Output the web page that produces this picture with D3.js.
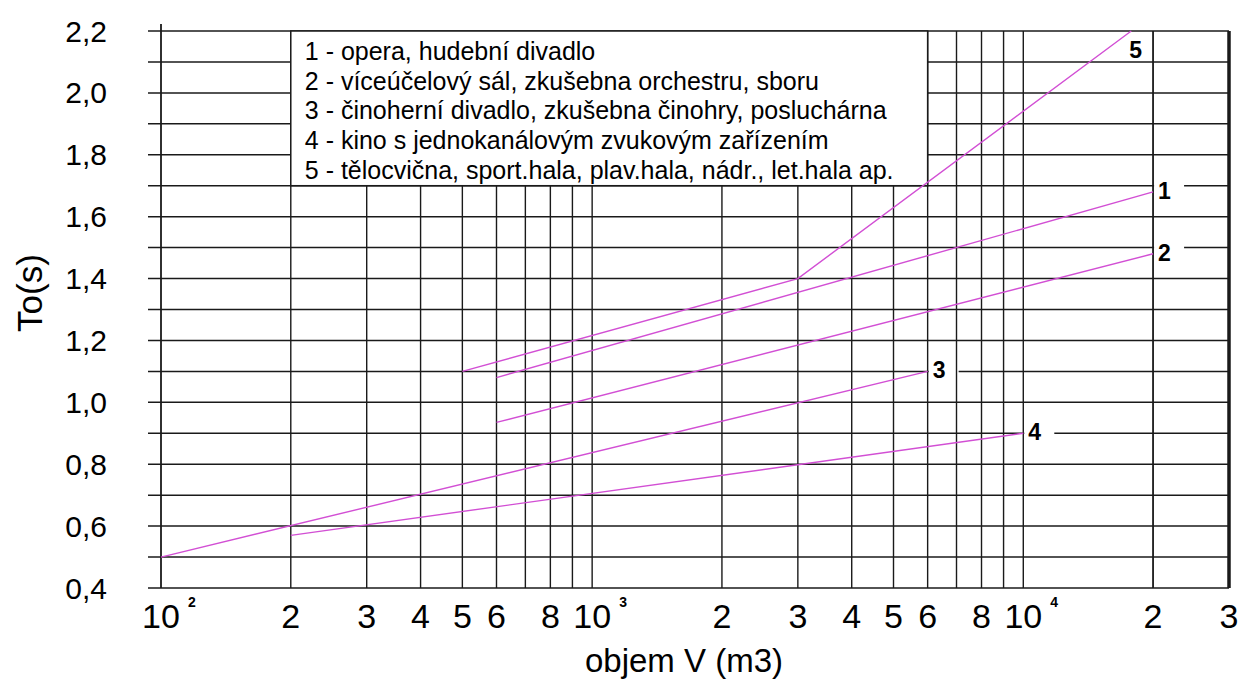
<!DOCTYPE html>
<html>
<head>
<meta charset="utf-8">
<script src="https://cdn.jsdelivr.net/npm/d3@7"></script>
<style>
	body { margin: 0; background: #fff; }
	text { font-family: "Liberation Sans", Arial, sans-serif; fill: #000; }
</style>
</head>
<body>
<div id="chart"></div>
<script>
// reverberation time vs. room volume
var seriesNames = ["1", "2", "3", "4", "5"],
	seriesV = [
		[600, 20000],
		[600, 20000],
		[100, 6000],
		[200, 10000],
		[500, 3000, 17800]
	],
	seriesT = [
		[1.08, 1.68],
		[0.935, 1.48],
		[0.5, 1.1],
		[0.57, 0.9],
		[1.1, 1.4, 2.2]
	],
	legendItems = [
		"1 - opera, hudební divadlo",
		"2 - víceúčelový sál, zkušebna orchestru, sboru",
		"3 - činoherní divadlo, zkušebna činohry, posluchárna",
		"4 - kino s jednokanálovým zvukovým zařízením",
		"5 - tělocvična, sport.hala, plav.hala, nádr., let.hala ap."
	],
	yTicks = [0.4, 0.6, 0.8, 1.0, 1.2, 1.4, 1.6, 1.8, 2.0, 2.2],
	xTickValues = [100, 200, 300, 400, 500, 600, 800, 1000, 2000, 3000, 4000, 5000, 6000, 8000, 10000, 20000, 30000],
	xTickLabels = ["10", "2", "3", "4", "5", "6", "8", "10", "2", "3", "4", "5", "6", "8", "10", "2", "3"],
	xTickExp = ["2", "", "", "", "", "", "", "3", "", "", "", "", "", "", "4", "", ""];

(function() {
	"use strict";

	var chartWidth = 1247,
		chartHeight = 686,
		left = 161,
		right = 1229,
		top = 31,
		bottom = 588,
		lineColor = "#d24fd4",
		gridColor = "#1a1a1a",
		svg,
		x,
		y,
		gridV = [],
		gridH = [],
		d,
		k;

	x = d3.scaleLog().domain([100, 30000]).range([left, right]);
	y = d3.scaleLinear().domain([0.4, 2.2]).range([bottom, top]);

	for (d = 100; d <= 10000; d *= 10) {
		for (k = 1; k <= 9; ++k) {
			gridV.push(d * k);
		}
	}
	gridV.push(20000, 30000);
	for (k = 4; k <= 22; ++k) gridH.push(k / 10);

	svg = d3.select("#chart")
		.append("svg")
		.attr("width", chartWidth)
		.attr("height", chartHeight);

	// horizontal grid, sticking out a bit on the left
	svg.append("g")
		.selectAll("line")
		.data(gridH)
		.enter()
		.append("line")
		.attr("x1", left - 13)
		.attr("x2", right)
		.attr("y1", function(v) { return y(v); })
		.attr("y2", function(v) { return y(v); })
		.style("stroke", gridColor)
		.style("stroke-width", 1.5);

	// gaps in the grid behind the curve numbers
	var labelG = svg.append("g");
	seriesNames.forEach(function(name, i) {
		var n = seriesV[i].length - 1,
			px = x(seriesV[i][n]),
			py = y(seriesT[i][n]);
		if (seriesT[i][n] >= 2.2) return;
		labelG.append("rect")
			.attr("x", px + 1)
			.attr("y", py - 12)
			.attr("width", 30)
			.attr("height", 24)
			.style("fill", "#fff");
	});

	// vertical grid
	svg.append("g")
		.selectAll("line")
		.data(gridV)
		.enter()
		.append("line")
		.attr("x1", function(v) { return x(v); })
		.attr("x2", function(v) { return x(v); })
		.attr("y1", function(v) { return v === 100 ? top - 7 : top; })
		.attr("y2", bottom)
		.style("stroke", gridColor)
		.style("stroke-width", function(v) { return v === 30000 ? 3 : (v === 100 ? 1.8 : 1.4); });

	// legend box
	svg.append("rect")
		.attr("x", x(200))
		.attr("y", y(2.2))
		.attr("width", x(6000) - x(200))
		.attr("height", y(1.7) - y(2.2))
		.style("fill", "#fff")
		.style("stroke", gridColor)
		.style("stroke-width", 1.5);

	svg.append("g")
		.selectAll("text")
		.data(legendItems)
		.enter()
		.append("text")
		.attr("x", x(200) + 14)
		.attr("y", function(t, i) { return 60 + i * 29.7; })
		.style("font-size", "25px")
		.text(function(t) { return t; });

	// curves
	var line = d3.line()
		.x(function(p) { return x(p[0]); })
		.y(function(p) { return y(p[1]); });

	svg.append("g")
		.selectAll("path")
		.data(seriesNames.map(function(name, i) {
			return seriesV[i].map(function(v, j) { return [v, seriesT[i][j]]; });
		}))
		.enter()
		.append("path")
		.attr("d", line)
		.style("fill", "none")
		.style("stroke", lineColor)
		.style("stroke-width", 1.4);

	// curve numbers
	seriesNames.forEach(function(name, i) {
		var n = seriesV[i].length - 1,
			px = x(seriesV[i][n]),
			py = y(seriesT[i][n]),
			atTop = seriesT[i][n] >= 2.2;
		labelG.append("text")
			.attr("x", atTop ? px - 2 : px + 5)
			.attr("y", atTop ? py + 27 : py + 7)
			.style("font-size", "23px")
			.style("font-weight", "bold")
			.text(name);
	});

	// y axis labels
	svg.append("g")
		.selectAll("text")
		.data(yTicks)
		.enter()
		.append("text")
		.attr("x", 107)
		.attr("y", function(v) { return y(v); })
		.attr("dy", "0.35em")
		.attr("text-anchor", "end")
		.style("font-size", "30px")
		.text(function(v) { return d3.format(".1f")(v).replace(".", ","); });

	svg.append("text")
		.attr("transform", "translate(42,293) rotate(-90)")
		.attr("text-anchor", "middle")
		.style("font-size", "35px")
		.text("To(s)");

	// x axis labels
	var xg = svg.append("g");
	xTickValues.forEach(function(v, i) {
		xg.append("text")
			.attr("x", x(v))
			.attr("y", 628)
			.attr("text-anchor", "middle")
			.style("font-size", "34px")
			.text(xTickLabels[i]);
		if (xTickExp[i]) {
			xg.append("text")
				.attr("x", x(v) + 27)
				.attr("y", 607)
				.style("font-size", "14px")
				.style("font-weight", "bold")
				.text(xTickExp[i]);
		}
	});

	svg.append("text")
		.attr("x", 684)
		.attr("y", 672)
		.attr("text-anchor", "middle")
		.style("font-size", "33px")
		.text("objem V (m3)");
})();
</script>
</body>
</html>
